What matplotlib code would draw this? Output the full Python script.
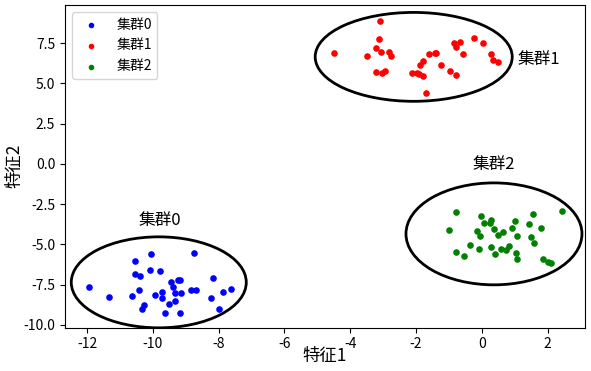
import matplotlib
matplotlib.use("Agg")
import matplotlib.pyplot as plt
from matplotlib.patches import Ellipse
import numpy as np

plt.rcParams['font.family'] = ['Noto Sans CJK SC', 'DejaVu Sans']
plt.rcParams['axes.unicode_minus'] = False

cluster_names = ['集群0', '集群1', '集群2']
cluster_colors = ['blue', 'red', 'green']

c0_x = [-10.05, -8.75, -10.53, -10.54, -10.38, -10.10, -9.79, -8.16, -11.93, -11.34, -10.64,
        -10.43, -9.94, -9.73, -9.71, -9.45, -9.39, -9.17, -9.22, -9.32, -9.14, -8.84, -8.68,
        -7.86, -7.62, -8.22, -9.50, -9.32, -10.26, -10.33, -9.63, -9.16, -7.98]
c0_y = [-5.61, -5.51, -6.03, -6.82, -6.96, -6.60, -6.67, -7.08, -7.64, -8.24, -8.18,
        -7.83, -8.14, -7.97, -8.31, -7.35, -7.62, -7.19, -7.21, -8.03, -8.03, -7.83, -7.83,
        -7.93, -7.77, -8.34, -8.72, -8.51, -8.78, -8.99, -9.27, -9.24, -9.03]

c1_x = [-3.09, -4.50, -3.11, -3.23, -3.05, -2.83, -2.75, -3.50, -3.23, -3.03, -2.93,
        -2.13, -1.98, -1.91, -1.78, -1.71, -1.88, -1.79, -1.61, -1.43, -1.40, -1.23,
        -0.96, -0.79, -0.84, -0.67, -0.77, -0.58, -0.24, 0.03, 0.29, 0.34, 0.50]
c1_y = [8.89, 6.90, 7.75, 7.21, 6.95, 6.95, 6.70, 6.70, 5.70, 5.64, 5.75,
        5.64, 5.64, 5.60, 5.44, 4.38, 6.16, 6.37, 6.84, 6.88, 6.86, 6.12,
        5.75, 5.54, 7.52, 7.59, 7.28, 6.84, 7.80, 7.52, 6.84, 6.47, 6.31]

c2_x = [-0.79, -1.00, -0.02, 0.29, 0.24, 0.08, -0.14, -0.04, 0.36, 0.50, 0.65, 1.01,
        0.93, 1.06, 1.55, 1.45, 1.81, 1.50, 1.58, 2.45, -0.36, -0.79, -0.54, -0.10,
        0.28, 0.40, 0.58, 0.75, 0.84, 1.03, 1.06, 1.86, 2.02, 2.11]
c2_y = [-2.99, -4.08, -3.23, -3.46, -3.67, -3.67, -4.15, -4.46, -4.04, -4.39, -4.21, -3.56,
        -3.98, -4.46, -3.09, -3.73, -3.98, -4.56, -4.93, -2.94, -5.03, -5.49, -5.72, -5.28,
        -5.14, -5.59, -5.30, -5.34, -5.08, -5.53, -5.92, -5.92, -6.11, -6.17]

ellipse_centers = [(-9.82, -7.36), (-2.07, 6.64), (0.37, -4.35)]
ellipse_widths = [5.32, 5.99, 5.35]
ellipse_heights = [5.65, 5.52, 6.33]
label_pos = [(-9.78, -3.53), (1.10, 6.45), (0.37, -0.07)]
label_ha = ['center', 'left', 'center']

xs = [c0_x, c1_x, c2_x]
ys = [c0_y, c1_y, c2_y]

fig = plt.figure(figsize=(5.91, 3.71), dpi=100)
ax = fig.add_axes([0.110, 0.117, 0.880, 0.8695])

for i in range(3):
    ax.scatter(xs[i], ys[i], s=14, c=cluster_colors[i], label=cluster_names[i], zorder=3)
    e = Ellipse(ellipse_centers[i], ellipse_widths[i], ellipse_heights[i],
                fill=False, edgecolor='black', linewidth=2)
    ax.add_patch(e)
    ax.text(label_pos[i][0], label_pos[i][1], cluster_names[i], fontsize=12,
            ha=label_ha[i], va='center')

ax.set_xlim(-12.67, 3.14)
ax.set_ylim(-10.17, 9.86)
ax.set_xticks([-12, -10, -8, -6, -4, -2, 0, 2])
ax.set_yticks([-10.0, -7.5, -5.0, -2.5, 0.0, 2.5, 5.0, 7.5])
ax.set_yticklabels(['-10.0', '-7.5', '-5.0', '-2.5', '0.0', '2.5', '5.0', '7.5'])
ax.tick_params(labelsize=10)
ax.set_xlabel('特征1', fontsize=12.5, labelpad=-3)
ax.set_ylabel('特征2', fontsize=12.5, labelpad=0)
ax.legend(loc='upper left', fontsize=10, markerscale=0.8)

fig.savefig('out.png', dpi=100)
